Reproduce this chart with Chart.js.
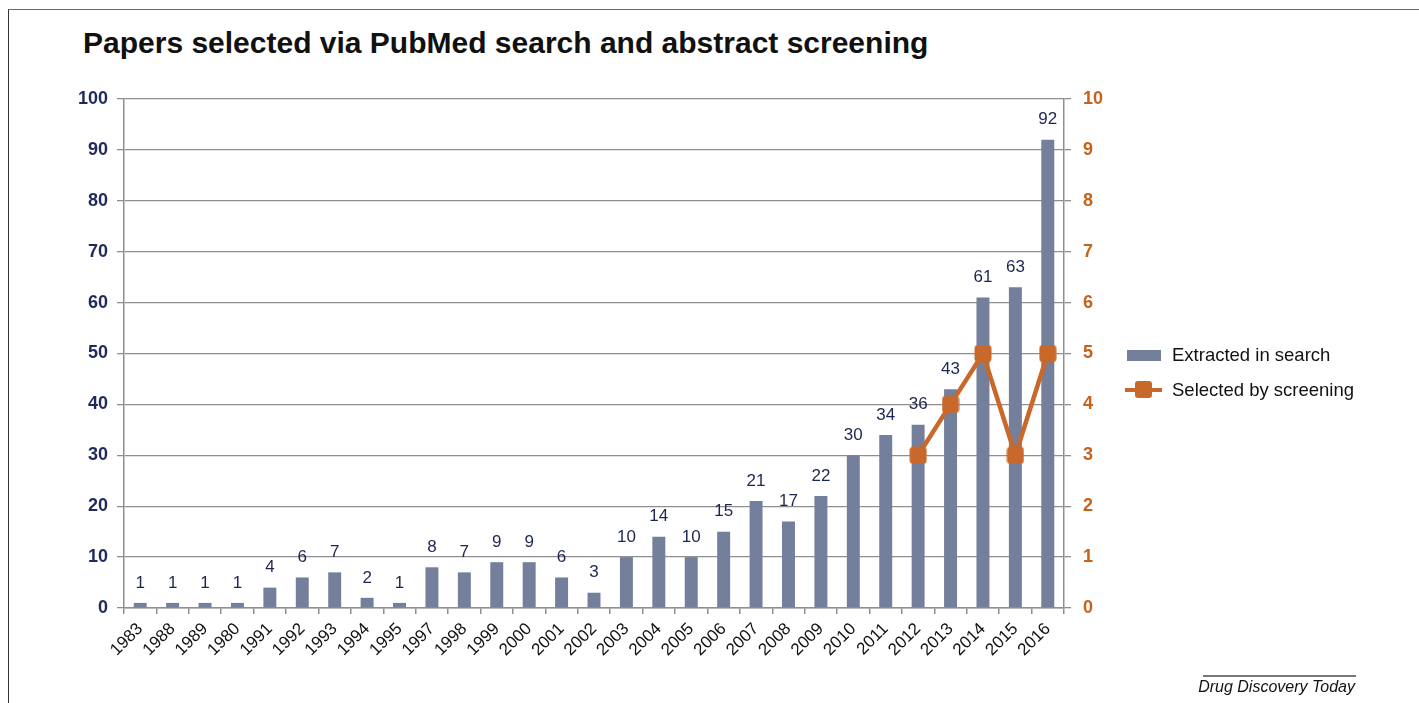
<!DOCTYPE html>
<html>
<head>
<meta charset="utf-8">
<script src="https://cdn.jsdelivr.net/npm/chart.js@4/dist/chart.umd.min.js"></script>
<style>
  html, body { margin: 0; padding: 0; background: #fff; }
  body { width: 1419px; height: 703px; position: relative; overflow: hidden; font-family: "Liberation Sans", Arial, Helvetica, sans-serif; }
  #frame { position: absolute; left: 8px; top: 9px; width: 1420px; height: 700px; border-top: 1.5px solid #6a6a6a; border-left: 1.5px solid #333; }
  #title { position: absolute; left: 83px; top: 28px; font-size: 30px; line-height: 30px; font-weight: bold; color: #111; white-space: nowrap; }
  #chartWrap { position: absolute; left: 0; top: 0; width: 1419px; height: 703px; }
  .leg { position: absolute; left: 1172px; font-size: 18.5px; line-height: 20px; color: #111; white-space: nowrap; }
  .swatch { position: absolute; left: 1127px; top: 350px; width: 34px; height: 11px; background: #737f9b; }
  .legline { position: absolute; left: 1125px; top: 388px; width: 37px; height: 4px; background: #c8692b; }
  .legmark { position: absolute; left: 1135px; top: 381px; width: 17px; height: 17px; border-radius: 3px; background: #c8692b; }
  #credit { position: absolute; left: 1150px; width: 205px; top: 677px; font-size: 16px; line-height: 20px; font-style: italic; color: #111; text-align: right; }
  #creditLine { position: absolute; left: 1203px; top: 675px; width: 153px; height: 1.5px; background: #777; }
</style>
</head>
<body>
<div id="frame"></div>
<div id="title">Papers selected via PubMed search and abstract screening</div>
<div id="chartWrap"><canvas id="c" width="1419" height="703"></canvas></div>
<div class="swatch"></div>
<div class="leg" style="top:345px;">Extracted in search</div>
<div class="legline"></div>
<div class="legmark"></div>
<div class="leg" style="top:380px;">Selected by screening</div>
<div id="creditLine"></div>
<div id="credit">Drug Discovery Today</div>
<script>
const years = ['1983','1988','1989','1980','1991','1992','1993','1994','1995','1997','1998','1999','2000','2001','2002','2003','2004','2005','2006','2007','2008','2009','2010','2011','2012','2013','2014','2015','2016'];
const extracted = [1,1,1,1,4,6,7,2,1,8,7,9,9,6,3,10,14,10,15,21,17,22,30,34,36,43,61,63,92];
const selected = [null,null,null,null,null,null,null,null,null,null,null,null,null,null,null,null,null,null,null,null,null,null,null,null,3,4,5,3,5];
const leftTicks = [0,10,20,30,40,50,60,70,80,90,100];
const rightTicks = [0,1,2,3,4,5,6,7,8,9,10];

const FONT = '"Liberation Sans", Arial, Helvetica, sans-serif';
Chart.defaults.font.family = FONT;

const BAR = '#737f9b';
const ORANGE = '#c8692b';
const ORANGE_TXT = '#c5621b';
const NAVY = '#1f2a5c';
const GRID = '#8f8f8f';

// rounded-square marker
const mk = document.createElement('canvas');
mk.width = 18; mk.height = 18;
(function(){
  const g = mk.getContext('2d');
  g.fillStyle = ORANGE;
  g.beginPath();
  if (g.roundRect) g.roundRect(0.5,0.5,17,17,3.5); else g.rect(0.5,0.5,17,17);
  g.fill();
})();

const valueLabels = {
  id: 'valueLabels',
  afterDatasetsDraw(chart) {
    const meta = chart.getDatasetMeta(1);
    const ctx = chart.ctx;
    ctx.save();
    ctx.font = '17px ' + FONT;
    ctx.fillStyle = '#1e2550';
    ctx.textAlign = 'center';
    ctx.textBaseline = 'middle';
    meta.data.forEach((bar, i) => {
      ctx.fillText(String(extracted[i]), bar.x, bar.y - 20);
    });
    ctx.restore();
  }
};

new Chart(document.getElementById('c'), {
  data: {
    labels: years,
    datasets: [
      {
        type: 'line',
        label: 'Selected by screening',
        data: selected,
        yAxisID: 'y1',
        borderColor: ORANGE,
        backgroundColor: ORANGE,
        borderWidth: 4.5,
        pointStyle: mk,
        spanGaps: false,
        order: 0
      },
      {
        type: 'bar',
        label: 'Extracted in search',
        data: extracted,
        yAxisID: 'y',
        backgroundColor: BAR,
        barPercentage: 0.4,
        categoryPercentage: 1.0,
        order: 1
      }
    ]
  },
  options: {
    responsive: false,
    animation: false,
    events: [],
    layout: { padding: { top: 99, left: 0, right: 295, bottom: 0 } },
    plugins: { legend: { display: false }, tooltip: { enabled: false } },
    scales: {
      x: {
        offset: true,
        afterFit(s) { s.height = 95; },
        border: { display: true, color: GRID, width: 1.5 },
        grid: { display: true, offset: true, drawOnChartArea: false, drawTicks: true, tickLength: 6, tickColor: GRID, lineWidth: 1.5 },
        ticks: { color: '#111', font: { size: 17 }, minRotation: 45, maxRotation: 45, padding: 5, autoSkip: false }
      },
      y: {
        position: 'left',
        min: 0, max: 100,
        afterFit(s) { s.width = 124; },
        afterBuildTicks(s) { s.ticks = leftTicks.map(v => ({ value: v })); },
        border: { display: true, color: GRID, width: 1.5 },
        grid: { color: GRID, lineWidth: 1.3, tickLength: 7, tickColor: GRID },
        ticks: { color: NAVY, font: { size: 18, weight: 'bold' }, padding: 9 }
      },
      y1: {
        position: 'right',
        min: 0, max: 10,
        afterFit(s) { s.width = 60; },
        afterBuildTicks(s) { s.ticks = rightTicks.map(v => ({ value: v })); },
        border: { display: true, color: GRID, width: 1.5 },
        grid: { drawOnChartArea: false, tickLength: 7, tickColor: GRID, lineWidth: 1.3 },
        ticks: { color: ORANGE_TXT, font: { size: 18, weight: 'bold' }, padding: 12 }
      }
    }
  },
  plugins: [valueLabels]
});
</script>
</body>
</html>
